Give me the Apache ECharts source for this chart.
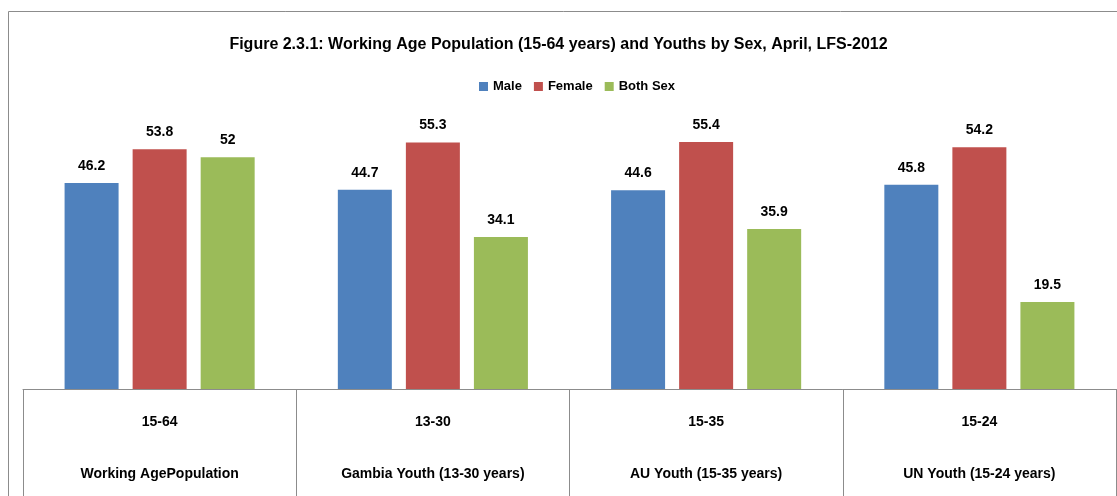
<!DOCTYPE html>
<html>
<head>
<meta charset="utf-8">
<script src="https://cdn.jsdelivr.net/npm/echarts@6/dist/echarts.min.js"></script>
<style>
  html, body { margin: 0; padding: 0; background: #fff; }
  #chart { width: 1117px; height: 496px; }
</style>
</head>
<body>
<div id="chart"></div>
<script>
let ranges = ['15-64', '13-30', '15-35', '15-24'];
let groups = ['Working AgePopulation', 'Gambia Youth (13-30 years)', 'AU Youth (15-35 years)', 'UN Youth (15-24 years)'];
let male = [46.2, 44.7, 44.6, 45.8];
let female = [53.8, 55.3, 55.4, 54.2];
let both = [52, 34.1, 35.9, 19.5];

let font = '"Liberation Sans", Arial, sans-serif';
let categories = ranges.map((r, i) => r + '|' + groups[i]);

let myChart = echarts.init(document.getElementById('chart'));

let barLabel = {
  show: true,
  position: 'top',
  distance: 10,
  color: '#000',
  fontFamily: font,
  fontWeight: 'bold',
  fontSize: 14
};

let option = {
  animation: false,
  title: {
    text: 'Figure 2.3.1: Working Age Population (15-64 years) and Youths by Sex, April, LFS-2012',
    left: 'center',
    top: 32,
    textStyle: { fontFamily: font, fontWeight: 'bold', fontSize: 16, color: '#000' }
  },
  legend: {
    top: 75,
    left: 474,
    itemWidth: 9,
    itemHeight: 9,
    itemGap: 12,
    icon: 'rect',
    textStyle: { fontFamily: font, fontWeight: 'bold', fontSize: 13, color: '#000' },
    data: ['Male', 'Female', 'Both Sex']
  },
  graphic: [{
    type: 'rect',
    shape: { x: 8.5, y: 11.5, width: 1120, height: 500 },
    style: { fill: null, stroke: '#8c8c8c', lineWidth: 1 },
    silent: true
  }],
  grid: { left: 23, right: 1, top: 121.5, bottom: 107 },
  xAxis: {
    type: 'category',
    data: categories,
    axisLine: { lineStyle: { color: '#8c8c8c', width: 1 } },
    axisTick: { show: true, length: 110, interval: 0, lineStyle: { color: '#8c8c8c' } },
    axisLabel: {
      interval: 0,
      margin: 7,
      formatter: function (v) {
        let p = v.split('|');
        return '{a|' + p[0] + '}\n{b|' + p[1] + '}';
      },
      rich: {
        a: { fontFamily: font, fontWeight: 'bold', fontSize: 14, color: '#000', lineHeight: 52 },
        b: { fontFamily: font, fontWeight: 'bold', fontSize: 14, color: '#000', lineHeight: 52 }
      }
    }
  },
  yAxis: {
    type: 'value',
    min: 0,
    max: 60,
    show: false,
    splitLine: { show: false }
  },
  series: [
    { name: 'Male', type: 'bar', data: male, barWidth: 54, barGap: '26%', itemStyle: { color: '#4F81BD' }, label: barLabel },
    { name: 'Female', type: 'bar', data: female, barWidth: 54, barGap: '26%', itemStyle: { color: '#C0504D' }, label: barLabel },
    { name: 'Both Sex', type: 'bar', data: both, barWidth: 54, barGap: '26%', itemStyle: { color: '#9BBB59' }, label: barLabel }
  ]
};

option && myChart.setOption(option);
</script>
</body>
</html>
